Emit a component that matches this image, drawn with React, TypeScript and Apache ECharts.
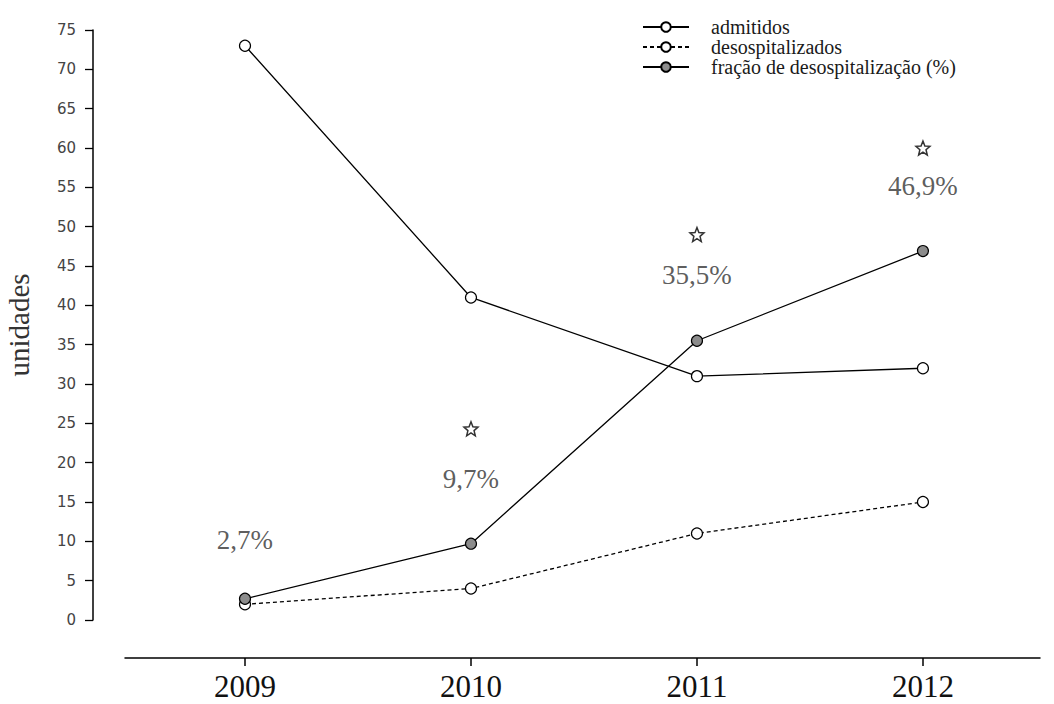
import React, { useEffect, useRef } from "react";
import * as echarts from "echarts";

const years = [2009, 2010, 2011, 2012];
const admitidos = [73, 41, 31, 32];
const desospitalizados = [2, 4, 11, 15];
const fracao = [2.7, 9.7, 35.5, 46.9];
const fracaoLabels = ["2,7%", "9,7%", "35,5%", "46,9%"];
const starY: (number | null)[] = [null, 24.3, 49, 60];
const labelY = [10.2, 17.9, 43.9, 55.2];
const yTicksMin = 0;
const yTicksMax = 75;
const yTickStep = 5;

const seriesNames = ["admitidos", "desospitalizados", "fração de desospitalização (%)"];

function starPath(): string {
  const pts: string[] = [];
  for (let i = 0; i < 10; i++) {
    const r = i % 2 === 0 ? 50 : 22;
    const a = -Math.PI / 2 + (i * Math.PI) / 5;
    const x = 50 + r * Math.cos(a);
    const y = 52 + r * Math.sin(a);
    pts.push((i === 0 ? "M" : "L") + x.toFixed(2) + " " + y.toFixed(2));
  }
  return "path://" + pts.join(" ") + " Z";
}

export default function App() {
  const ref = useRef<HTMLDivElement>(null);
  useEffect(() => {
    if (!ref.current) return;
    const chart = echarts.init(ref.current, undefined, { renderer: "svg" });
    const pair = (arr: (number | null)[]) =>
      years.map((y, i) => (arr[i] == null ? null : [y, arr[i]])).filter((d) => d !== null);
    const lineW = 1.3;
    chart.setOption({
      animation: false,
      backgroundColor: "#ffffff",
      grid: { left: 125, right: 14, top: 30, bottom: 84, outerBoundsMode: "none", containLabel: false },
      legend: {
        data: seriesNames,
        orient: "vertical",
        left: 642,
        top: 17,
        padding: 0,
        itemWidth: 46,
        itemHeight: 12,
        itemGap: 0,
        textStyle: {
          fontFamily: "Liberation Serif",
          fontSize: 20,
          color: "#1a1a1a",
          padding: [0, 0, 0, 17],
        },
      },
      xAxis: {
        type: "value",
        min: 2008.469,
        max: 2012.518,
        position: "bottom",
        offset: 38,
        splitLine: { show: false },
        axisLine: { show: true, onZero: false, lineStyle: { color: "#000", width: 1.5 } },
        axisTick: {
          show: true,
          length: 8,
          customValues: years,
          lineStyle: { color: "#000", width: 1.5 },
        },
        axisLabel: {
          customValues: years,
          formatter: (v: number) => String(Math.round(v)),
          fontFamily: "Liberation Serif",
          fontSize: 31,
          color: "#111",
          margin: 13,
        },
      },
      yAxis: {
        type: "value",
        min: yTicksMin,
        max: yTicksMax,
        interval: yTickStep,
        position: "left",
        offset: 32,
        name: "unidades",
        nameLocation: "middle",
        nameGap: 60,
        nameTextStyle: { fontFamily: "Liberation Serif", fontSize: 29, color: "#333" },
        splitLine: { show: false },
        axisLine: { show: true, onZero: false, lineStyle: { color: "#000", width: 1.5 } },
        axisTick: { show: true, length: 8, lineStyle: { color: "#000", width: 1.3 } },
        axisLabel: {
          fontFamily: "DejaVu Sans",
          fontSize: 15,
          color: "#444",
          margin: 17,
        },
      },
      series: [
        {
          name: seriesNames[0],
          type: "line",
          data: pair(admitidos),
          symbol: "circle",
          symbolSize: 11,
          lineStyle: { color: "#000", width: lineW },
          itemStyle: { color: "#fff", borderColor: "#000", borderWidth: 1.2 },
          z: 3,
        },
        {
          name: seriesNames[1],
          type: "line",
          data: pair(desospitalizados),
          symbol: "circle",
          symbolSize: 11,
          lineStyle: { color: "#000", width: lineW, type: [4, 3] },
          itemStyle: { color: "#fff", borderColor: "#000", borderWidth: 1.2 },
          z: 3,
        },
        {
          name: seriesNames[2],
          type: "line",
          data: pair(fracao),
          symbol: "circle",
          symbolSize: 11,
          lineStyle: { color: "#000", width: lineW },
          itemStyle: { color: "#8c8c8c", borderColor: "#000", borderWidth: 1.2 },
          z: 4,
        },
        {
          name: "estrelas",
          type: "scatter",
          data: pair(starY),
          symbol: starPath(),
          symbolSize: 14,
          itemStyle: { color: "#fff", borderColor: "#000", borderWidth: 1.5 },
          z: 5,
        },
        {
          name: "rotulos",
          type: "scatter",
          data: pair(labelY),
          symbolSize: 1,
          itemStyle: { color: "rgba(0,0,0,0)" },
          label: {
            show: true,
            position: "inside",
            formatter: (p: any) => fracaoLabels[p.dataIndex],
            fontFamily: "Liberation Serif",
            fontSize: 27,
            color: "#333",
          },
          z: 5,
        },
      ],
    });
    return () => chart.dispose();
  }, []);
  return (
    <div
      ref={ref}
      style={{ position: "fixed", left: 0, top: 0, width: 1054, height: 704 }}
    />
  );
}
